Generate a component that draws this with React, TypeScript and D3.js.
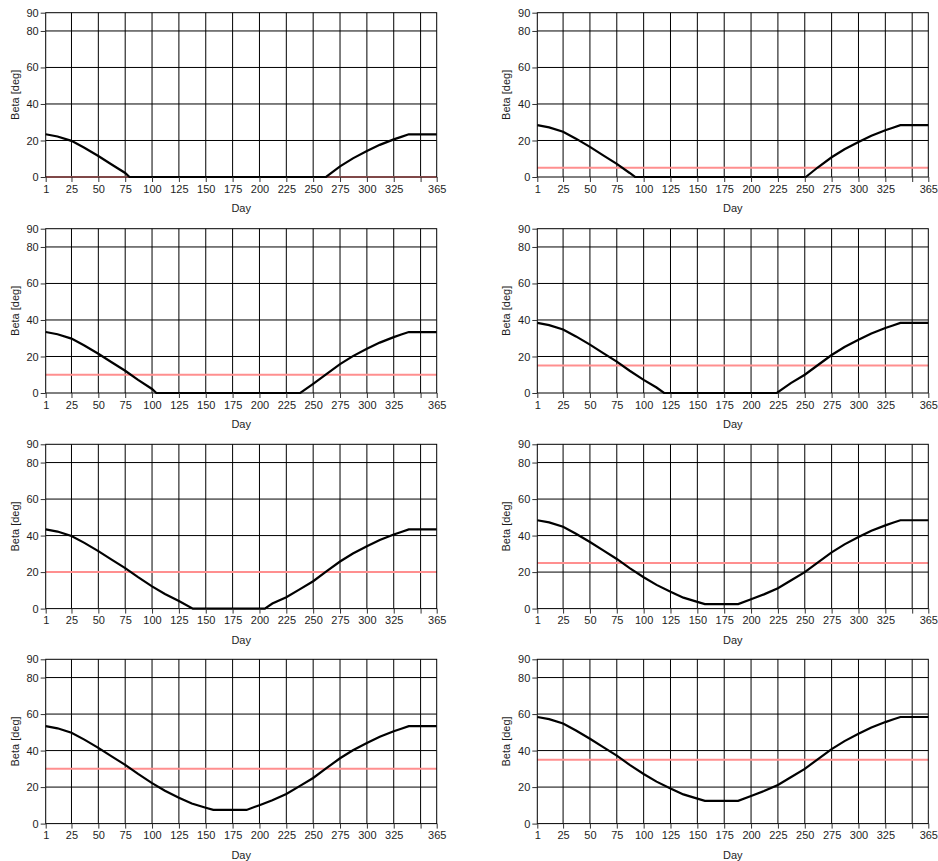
import * as d3 from 'd3'
import React, { useEffect, useRef } from 'react'

// red reference level in each panel, left-to-right, top-to-bottom
const LIMITS = [0, 5, 10, 15, 20, 25, 30, 35]

const Y_TICKS = [0, 20, 40, 60, 80, 90]
const Y_GRID = [20, 40, 60, 80]
const X_TICKS = [1, 25, 50, 75, 100, 125, 150, 175, 200, 225, 250, 275, 300, 325, 350, 365]
const X_GRID = [25, 50, 75, 100, 125, 150, 175, 200, 225, 250, 275, 300, 325, 350]

// [day, beta]
const BETA_A = [[1, 23.4], [12, 22.2], [25, 19.8], [37, 16.0], [50, 11.5], [62, 7.0], [75, 2.2], [79, 0],
  [262, 0], [275, 5.8], [287, 10.2], [300, 14.2], [312, 17.6], [325, 20.6], [332, 22.0], [339, 23.4], [365, 23.4]]
const BETA_B = [[1, 28.4], [12, 27.2], [25, 24.8], [37, 21.0], [50, 16.5], [62, 12.0], [75, 7.2], [87, 2.2], [92, 0],
  [251, 0], [262, 5.2], [275, 10.8], [287, 15.2], [300, 19.2], [312, 22.6], [325, 25.6], [332, 27.0], [339, 28.4], [365, 28.4]]
const BETA_C = [[1, 33.4], [12, 32.2], [25, 29.8], [37, 26.0], [50, 21.5], [62, 17.0], [75, 12.2], [87, 7.2], [100, 2.2], [104, 0],
  [238, 0], [250, 5.0], [262, 10.2], [275, 15.8], [287, 20.2], [300, 24.2], [312, 27.6], [325, 30.6], [332, 32.0], [339, 33.4], [365, 33.4]]
const BETA_D = [[1, 38.4], [12, 37.2], [25, 34.8], [37, 31.0], [50, 26.5], [62, 22.0], [75, 17.2], [87, 12.2], [100, 7.2], [112, 3.0], [119, 0],
  [224, 0], [237, 5.4], [250, 10.0], [262, 15.2], [275, 20.8], [287, 25.2], [300, 29.2], [312, 32.6], [325, 35.6], [332, 37.0], [339, 38.4], [365, 38.4]]
const BETA_E = [[1, 43.4], [12, 42.2], [25, 39.8], [37, 36.0], [50, 31.5], [62, 27.0], [75, 22.2], [87, 17.2], [100, 12.2], [112, 8.0], [125, 4.2], [138, 0],
  [205, 0], [212, 2.8], [225, 6.2], [237, 10.4], [250, 15.0], [262, 20.2], [275, 25.8], [287, 30.2], [300, 34.2], [312, 37.6], [325, 40.6], [332, 42.0], [339, 43.4], [365, 43.4]]
const BETA_F = [[1, 48.4], [12, 47.2], [25, 44.8], [37, 41.0], [50, 36.5], [62, 32.0], [75, 27.2], [87, 22.2], [100, 17.2], [112, 13.0], [125, 9.2], [137, 6.0], [150, 3.7], [157, 2.5],
  [188, 2.5], [200, 5.1], [212, 7.8], [225, 11.2], [237, 15.4], [250, 20.0], [262, 25.2], [275, 30.8], [287, 35.2], [300, 39.2], [312, 42.6], [325, 45.6], [332, 47.0], [339, 48.4], [365, 48.4]]
const BETA_G = [[1, 53.4], [12, 52.2], [25, 49.8], [37, 46.0], [50, 41.5], [62, 37.0], [75, 32.2], [87, 27.2], [100, 22.2], [112, 18.0], [125, 14.2], [137, 11.0], [150, 8.7], [157, 7.5],
  [188, 7.5], [200, 10.1], [212, 12.8], [225, 16.2], [237, 20.4], [250, 25.0], [262, 30.2], [275, 35.8], [287, 40.2], [300, 44.2], [312, 47.6], [325, 50.6], [332, 52.0], [339, 53.4], [365, 53.4]]
const BETA_H = [[1, 58.4], [12, 57.2], [25, 54.8], [37, 51.0], [50, 46.5], [62, 42.0], [75, 37.2], [87, 32.2], [100, 27.2], [112, 23.0], [125, 19.2], [137, 16.0], [150, 13.7], [157, 12.5],
  [188, 12.5], [200, 15.1], [212, 17.8], [225, 21.2], [237, 25.4], [250, 30.0], [262, 35.2], [275, 40.8], [287, 45.2], [300, 49.2], [312, 52.6], [325, 55.6], [332, 57.0], [339, 58.4], [365, 58.4]]

const SERIES = [BETA_A, BETA_B, BETA_C, BETA_D, BETA_E, BETA_F, BETA_G, BETA_H]

const W = 938
const H = 861
const colLeft = [45.7, 537.3]
const rowTop = [12.7, 228.7, 444.3, 659.3]
const plotW = 391
const plotH = 164.3
const font = '"Liberation Sans", Arial, sans-serif'
const textColor = '#1e1e1e'

export default function App() {
  const ref = useRef<SVGSVGElement>(null)

  useEffect(() => {
    const svg = d3.select(ref.current)
    svg.selectAll('*').remove()

    SERIES.forEach((data, i) => {
      const left = colLeft[i % 2]
      const top = rowTop[Math.floor(i / 2)]

      const x = d3.scaleLinear().domain([1, 365]).range([left, left + plotW])
      const y = d3.scaleLinear().domain([0, 90]).range([top + plotH, top])

      const g = svg.append('g')

      g.append('rect')
        .attr('x', left).attr('y', top)
        .attr('width', plotW).attr('height', plotH)
        .attr('fill', '#fff')

      g.selectAll('line.vgrid')
        .data(X_GRID)
        .enter().append('line')
        .attr('class', 'vgrid')
        .attr('x1', d => x(d)).attr('x2', d => x(d))
        .attr('y1', top).attr('y2', top + plotH)
        .attr('stroke', '#000').attr('stroke-width', 1)

      g.selectAll('line.hgrid')
        .data(Y_GRID)
        .enter().append('line')
        .attr('class', 'hgrid')
        .attr('x1', left).attr('x2', left + plotW)
        .attr('y1', d => y(d)).attr('y2', d => y(d))
        .attr('stroke', '#000').attr('stroke-width', 1)

      // limit level
      g.append('line')
        .attr('x1', left).attr('x2', left + plotW)
        .attr('y1', y(LIMITS[i])).attr('y2', y(LIMITS[i]))
        .attr('stroke', '#ff8f8f').attr('stroke-width', 2)

      const line = d3.line<number[]>()
        .x(d => x(d[0]))
        .y(d => y(d[1]))

      g.append('path')
        .datum(data)
        .attr('d', line)
        .attr('fill', 'none')
        .attr('stroke', '#000')
        .attr('stroke-width', 2.2)

      g.append('rect')
        .attr('x', left).attr('y', top)
        .attr('width', plotW).attr('height', plotH)
        .attr('fill', 'none')
        .attr('stroke', '#000').attr('stroke-width', 1)

      const yAxis = d3.axisLeft(y)
        .tickValues(Y_TICKS)
        .tickSize(5)
        .tickPadding(2)
        .tickFormat(d3.format('d'))

      const xAxis = d3.axisBottom(x)
        .tickValues(X_TICKS)
        .tickSize(5)
        .tickPadding(3)
        .tickFormat(d => (d === 350 ? '' : String(d)))

      const ya = g.append('g')
        .attr('transform', `translate(${left},0)`)
        .call(yAxis)
      const xa = g.append('g')
        .attr('transform', `translate(0,${top + plotH})`)
        .call(xAxis)

      for (const a of [ya, xa]) {
        a.select('.domain').remove()
        a.selectAll('line').attr('stroke', '#333')
        a.selectAll('text')
          .attr('fill', textColor)
          .style('font-family', font)
          .style('font-size', '11px')
      }

      g.append('text')
        .attr('x', left + plotW / 2)
        .attr('y', top + plotH + 35)
        .attr('text-anchor', 'middle')
        .attr('fill', textColor)
        .style('font-family', font)
        .style('font-size', '11px')
        .text('Day')

      g.append('text')
        .attr('transform', `translate(${left - 27},${top + plotH / 2}) rotate(-90)`)
        .attr('text-anchor', 'middle')
        .attr('fill', textColor)
        .style('font-family', font)
        .style('font-size', '11px')
        .text('Beta [deg]')
    })
  }, [])

  return (
    <svg
      ref={ref}
      width={W}
      height={H}
      style={{ position: 'absolute', left: 0, top: 0, background: '#fff' }}
    />
  )
}
